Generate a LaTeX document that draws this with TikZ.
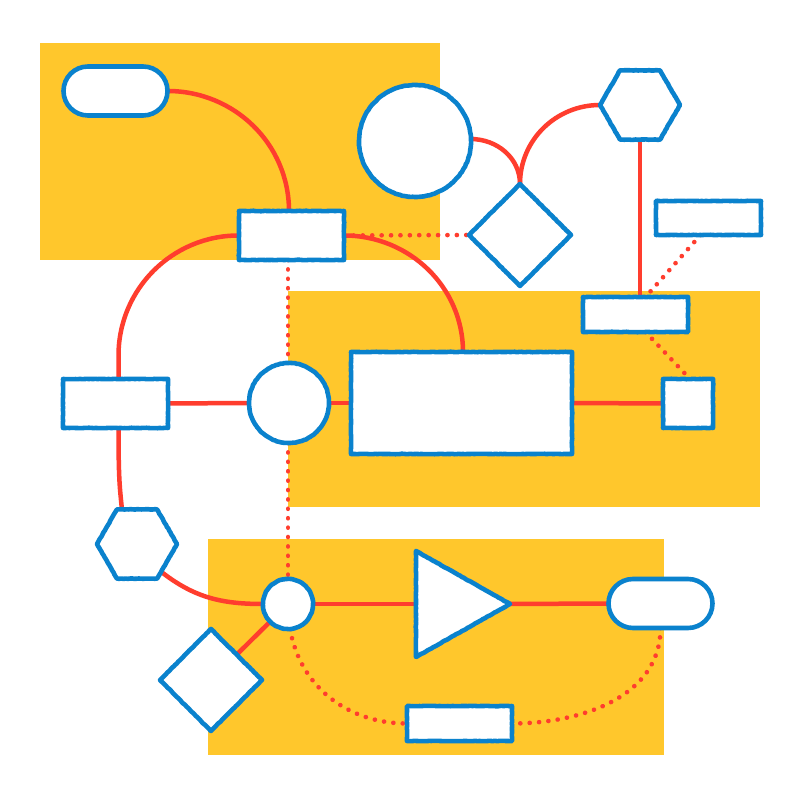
\documentclass[tikz,border=0pt]{standalone}
\usetikzlibrary{shapes.geometric,shapes.misc,decorations.pathmorphing,calc}
\pgfdeclarelayer{back}
\pgfdeclarelayer{conn}
\pgfsetlayers{back,conn,main}
\definecolor{zone}{HTML}{FFC72C}
\definecolor{wire}{HTML}{FF3D2E}
\definecolor{edge}{HTML}{0A82CD}
\tikzset{
  x=1pt,y=1pt,
  zonebox/.style={fill=zone,draw=none},
  shapebase/.style={draw=edge,fill=white,line width=4.6pt,line join=round,inner sep=0pt,outer sep=0pt,
    decorate,decoration={random steps,segment length=2.2pt,amplitude=.22pt}},
  recta/.style={shapebase,rectangle,minimum width=#1},
  pill/.style={draw=edge,fill=white,line width=4.6pt,inner sep=0pt,outer sep=0pt,rounded rectangle,minimum width=104pt,minimum height=49pt},
  disc/.style={shapebase,circle,minimum size=#1},
  hexa/.style={shapebase,regular polygon,regular polygon sides=6,minimum size=80pt},
  rhomb/.style={shapebase,diamond,aspect=1,minimum width=102pt,minimum height=102pt},
  tri/.style={shapebase,isosceles triangle,isosceles triangle stretches,shape border rotate=0,minimum width=106pt,minimum height=94pt},
  solidwire/.style={draw=wire,line width=4.5pt},
  dotwire/.style={draw=wire,line width=4.6pt,line cap=round,dash pattern=on 0.1pt off 9.3pt},
}
\begin{document}
\begin{tikzpicture}
\pgfmathsetseed{7}
\useasboundingbox (0,0) rectangle (800,800);
\begin{pgfonlayer}{back}
\fill[white] (0,0) rectangle (800,800);
\fill[zonebox] (40,540) rectangle (440,757);
\fill[zonebox] (288,293) rectangle (760,509);
\fill[zonebox] (208,45) rectangle (664,261);
\end{pgfonlayer}
% nodes
\node[pill] (a) at (115.5,709) {};
\node[disc=112pt] (c) at (415,659) {};
\node[hexa] (h) at (640,695) {};
\node[recta=105pt,minimum height=49pt] (b) at (291.5,564.5) {};
\node[rhomb] (d) at (520,565) {};
\node[recta=105pt,minimum height=34pt] (e) at (708.5,582) {};
\node[recta=105pt,minimum height=35pt] (f) at (635.5,485.5) {};
\node[recta=105pt,minimum height=49pt] (g) at (115.5,396.5) {};
\node[disc=80pt] (m) at (289,397) {};
\node[recta=221pt,minimum height=102pt] (i) at (461.5,397) {};
\node[recta=50pt,minimum height=49pt] (j) at (688,396.5) {};
\node[hexa] (k) at (137,256) {};
\node[disc=50pt] (l) at (288,196) {};
\node[tri,anchor=apex] (t) at (510,196) {};
\node[pill] (n) at (660.5,196.5) {};
\node[rhomb] (o) at (211,120) {};
\node[recta=105pt,minimum height=35pt] (p) at (459.5,76.5) {};
% connectors
\begin{pgfonlayer}{conn}
\draw[solidwire] (a.east) to[out=0,in=90] ([xshift=-2.5pt]b.north);
\draw[solidwire,rounded corners=120pt] (b.west) -| ([xshift=3pt]g.north);
\draw[solidwire] ([xshift=3pt]g.south) .. controls +(0,-55) and +(-2,22) .. ([xshift=-15pt,yshift=-1pt]k.north);
\draw[solidwire] (b.east) to[out=0,in=90] ([xshift=1.5pt]i.north);
\draw[dotwire] (b.east) -- (d.west);
\draw[dotwire] (b.south -| l.north) -- (m.north -| l.north);
\draw[solidwire] (c.2) to[out=0,in=90] (d.north);
\draw[solidwire] (h.west) to[out=180,in=90] (d.north);
\draw[solidwire] (h.south) -- (h.south |- f.north);
\draw[dotwire] ([xshift=-8pt]e.south) -- ([xshift=10pt]f.north);
\draw[dotwire] ([xshift=10pt]f.south) -- ([xshift=2pt]j.north);
\draw[solidwire] (g.east) -- (m.west);
\draw[solidwire] (m.east) -- (i.west);
\draw[solidwire] (i.east) -- (j.west);
\draw[dotwire] (m.south -| l.north) -- (l.north);
\draw[solidwire] (k.-49) to[out=-38,in=180] (l.west);
\draw[solidwire] (l) -- (o);
\draw[solidwire] (l.east) -- (t.west);
\draw[solidwire] (t.apex) -- (n.west);
\draw[dotwire] ([xshift=2pt]l.south) to[out=-80,in=180] (p.west);
\draw[dotwire] (n.south) to[out=-90,in=0] (p.east);
\end{pgfonlayer}
\end{tikzpicture}
\end{document}
